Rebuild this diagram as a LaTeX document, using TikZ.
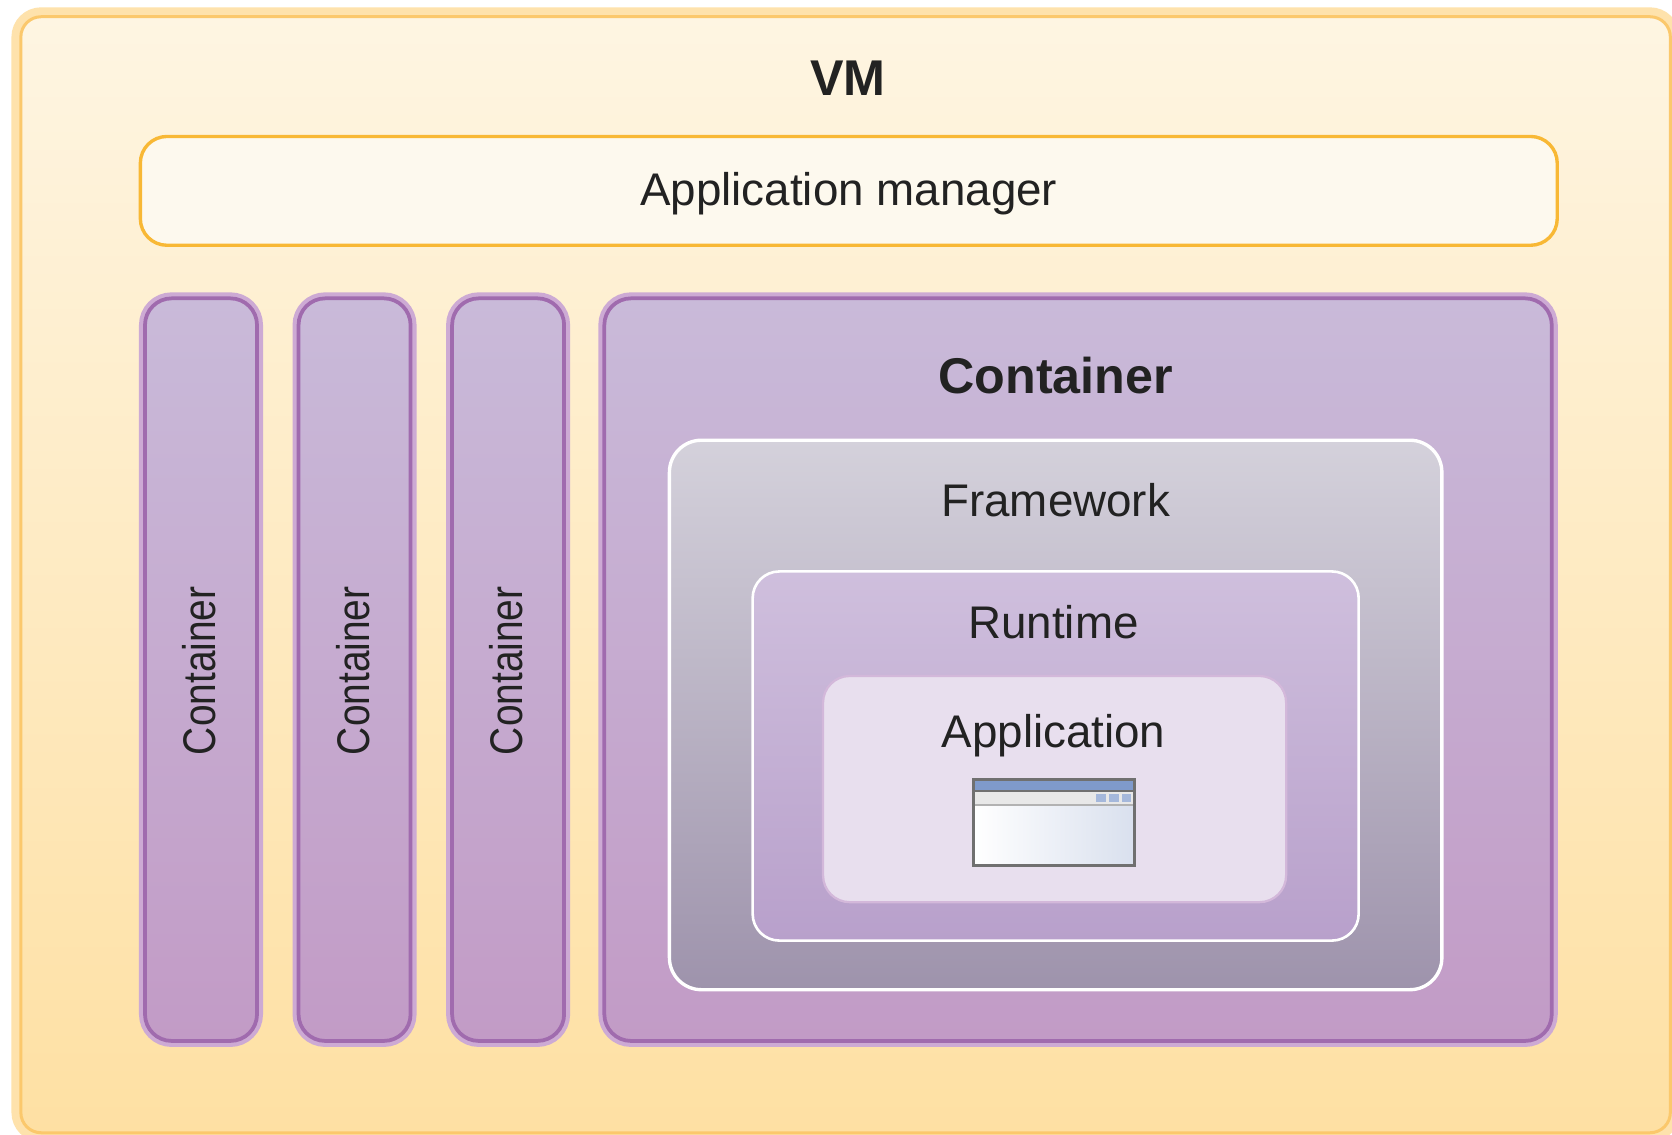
\documentclass[tikz,border=0pt]{standalone}
\usepackage{fontspec}
\setmainfont{Liberation Sans}
\usetikzlibrary{calc}

\definecolor{vmtop}{HTML}{FEF5E2}
\definecolor{vmbot}{HTML}{FEE0A3}
\definecolor{vmline}{HTML}{FBC86C}
\definecolor{vmhalo}{HTML}{FEE2AC}
\definecolor{mgrfill}{HTML}{FDF9EE}
\definecolor{mgrline}{HTML}{F8B835}
\definecolor{cttop}{HTML}{C9BAD9}
\definecolor{ctbot}{HTML}{C29BC6}
\definecolor{ctline}{HTML}{A06BAE}
\definecolor{cthalo}{HTML}{CDAAD4}
\definecolor{fwtop}{HTML}{D4D1DB}
\definecolor{fwbot}{HTML}{9E93AC}
\definecolor{rttop}{HTML}{CFBFDD}
\definecolor{rtbot}{HTML}{B8A0CB}
\definecolor{appfill}{HTML}{E8DFEE}
\definecolor{appline}{HTML}{D3B8DA}
\definecolor{txt}{HTML}{222222}
\definecolor{winblue}{HTML}{7F9ACB}
\definecolor{winframe}{HTML}{707070}
\definecolor{winpane}{HTML}{D9E0EE}

\begin{document}
\begin{tikzpicture}[x=0.01cm, y=-0.01cm,
  vmbox/.style={draw=vmline, line width=0.8pt, top color=vmtop, bottom color=vmbot,
    rounded corners=0.19cm, inner sep=0, outer sep=0,
    preaction={draw=vmhalo, line width=5pt, rounded corners=0.19cm}},
  mgrbox/.style={draw=mgrline, line width=0.9pt, fill=mgrfill, rounded corners=0.25cm,
    inner sep=0, outer sep=0},
  ctbox/.style={draw=ctline, line width=1pt, top color=cttop, bottom color=ctbot,
    rounded corners=0.25cm, inner sep=0, outer sep=0,
    preaction={draw=cthalo, line width=3.2pt, rounded corners=0.25cm}},
  fwbox/.style={draw=white, line width=0.9pt, top color=fwtop, bottom color=fwbot,
    rounded corners=0.3cm, inner sep=0, outer sep=0},
  rtbox/.style={draw=white, line width=0.7pt, top color=rttop, bottom color=rtbot,
    rounded corners=0.25cm, inner sep=0, outer sep=0},
  appbox/.style={draw=appline, line width=0.6pt, fill=appfill,
    rounded corners=0.25cm, inner sep=0, outer sep=0},
  title/.style={inner sep=0, text=txt, font=\fontsize{13.4}{16}\selectfont\bfseries},
  label/.style={inner sep=0, text=txt, font=\fontsize{12.2}{14}\selectfont},
  vlabel/.style={label, rotate=90}]

\fill[white] (0,0) rectangle (1568,1064);
\useasboundingbox (0,0) rectangle (1568,1064);

% VM
\node[vmbox, minimum width=15.46cm, minimum height=10.46cm] (vm) at (793,539) {};
\node[title] (vmtxt) at (795,73) {VM};

% application manager
\node[mgrbox, minimum width=13.28cm, minimum height=1.02cm] (mgr) at (796,179) {};
\node[label] (mgrtxt) at (796,182) {Application manager};

% small containers
\foreach \i/\x in {1/188.5, 2/332.5, 3/476.5} {
  \node[ctbox, minimum width=1.05cm, minimum height=6.96cm] (ct\i) at (\x,628) {};
  \node[vlabel] (ct\i txt) at (\x-1.5,629) {\scalebox{0.85}[1]{Container}};
}

% big container
\node[ctbox, minimum width=8.88cm, minimum height=6.96cm] (ct) at (1011,628) {};
\node[title] (cttxt) at (990,352) {Container};

% framework, runtime, application
\node[fwbox, minimum width=7.24cm, minimum height=5.15cm] (fw) at (990,670.5) {};
\node[label] (fwtxt) at (990,469) {Framework};
\node[rtbox, minimum width=5.68cm, minimum height=3.46cm] (rt) at (990,709) {};
\node[label] (rttxt) at (988,583) {Runtime};
\node[appbox, minimum width=4.34cm, minimum height=2.12cm] (app) at (989,740) {};
\node[label] (apptxt) at (988,690) {Application};

% window icon
\node[left color=white, right color=winpane,
  inner sep=0, outer sep=0, minimum width=1.51cm, minimum height=0.81cm] (win) at (988.5,771.5) {};
\fill[winblue] (win.north west) rectangle ($(win.north east)+(0,11)$);
\fill[gray!18] ($(win.north west)+(0,11)$) rectangle ($(win.north east)+(0,24)$);
\foreach \dx in {-36,-24,-12}
  \fill[winblue!70] ($(win.north east)+(\dx,14)$) rectangle ++(9,7);
\draw[winframe, line width=0.5pt] ($(win.north west)+(0,11)$) -- ($(win.north east)+(0,11)$);
\draw[gray!60, line width=0.4pt] ($(win.north west)+(0,24)$) -- ($(win.north east)+(0,24)$);
\draw[winframe, line width=0.8pt] (win.north west) rectangle (win.south east);
\end{tikzpicture}
\end{document}
